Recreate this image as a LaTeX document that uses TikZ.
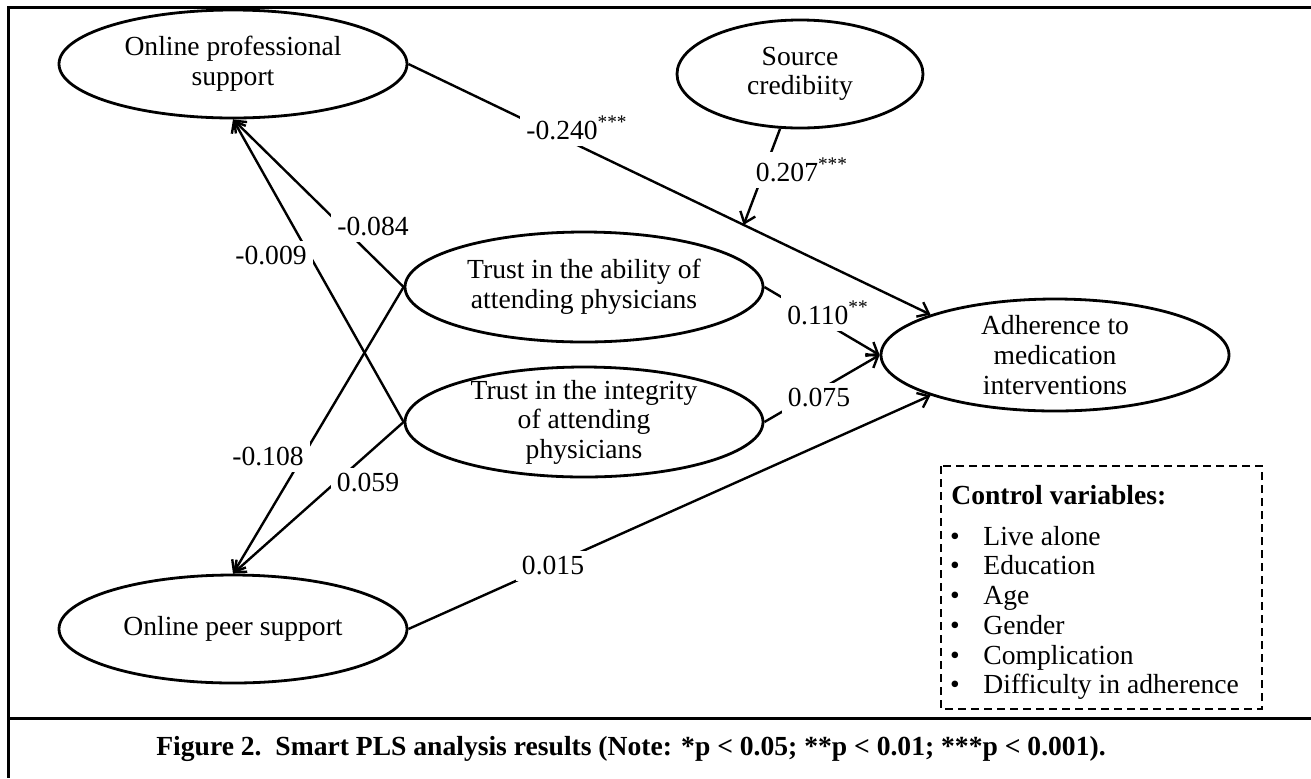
\documentclass[tikz,border=0pt]{standalone}
\usepackage{fontspec}
\setmainfont{Liberation Serif}
\usetikzlibrary{shapes.geometric,arrows.meta}

\newcommand{\plsfont}{\fontsize{13.8pt}{14.8pt}\selectfont}

\begin{document}
\begin{tikzpicture}[x=0.5pt,y=-0.5pt,font=\plsfont,
  construct/.style={draw,ellipse,line width=1.4pt,align=center,inner xsep=0pt,inner ysep=-6pt,
    minimum width=174pt,minimum height=54pt},
  effect/.style={line width=1.2pt,-{Straight Barb[length=5pt,width=8pt]}},
  coef/.style={fill=white,inner sep=3pt}]
\useasboundingbox (0,0) rectangle (1311,778);
% frame
\draw[line width=1.5pt] (1311,7) -- (8,7) -- (8,778);
\draw[line width=1.5pt] (8,718) -- (1311,718);
% constructs
\node[construct] (ops) at (233,64) {Online professional\\support};
\node[construct,minimum width=123pt] (src) at (800,74) {Source\\credibiity};
\node[construct,minimum width=179pt,minimum height=55pt] (abil) at (584,287) {Trust in the ability of\\attending physicians};
\node[construct,minimum width=179pt,minimum height=55pt] (integ) at (584,422) {Trust in the integrity\\of attending\\physicians};
\node[construct,minimum height=56pt] (adh) at (1055,355) {Adherence to\\medication\\interventions};
\node[construct] (peer) at (233,629) {Online peer support};
% paths
\draw[effect] (ops.east) -- coordinate[pos=0.642] (mod) (adh.162);
\draw[effect] (src.250) -- (mod);
\draw[effect] (abil.east) -- (adh.west);
\draw[effect] (integ.east) -- (adh.west);
\draw[effect] (peer.east) -- (adh.198);
\draw[effect] (abil.west) -- (ops.south);
\draw[effect] (integ.west) -- (ops.south);
\draw[effect] (abil.west) -- (peer.north);
\draw[effect] (integ.west) -- (peer.north);
% coefficients
\node[coef] (c240) at (577,128) {-0.240\textsuperscript{***}};
\node[coef] (c207) at (802,170) {0.207\textsuperscript{***}};
\node[coef] (c110) at (828,313) {0.110\textsuperscript{**}};
\node[coef] (c075) at (819,398) {0.075};
\node[coef] (c084) at (373,227) {-0.084};
\node[coef] (c009) at (271,256) {-0.009};
\node[coef] (c108) at (268,457) {-0.108};
\node[coef] (c059) at (368,483) {0.059};
\node[coef] (c015) at (553,566) {0.015};
% control variables
\draw[line width=1pt,dash pattern=on 4pt off 2.5pt] (941,466) rectangle (1262,709);
\node[anchor=base west,inner sep=0pt,font=\plsfont\bfseries] (ctrl) at (951,504) {Control variables:};
\foreach \y/\t [count=\i] in {538/Live alone,567/Education,597/Age,627/Gender,657/Complication,686/Difficulty in adherence}
{
  \node[anchor=base,inner sep=0pt] (b\i) at (955,\y+7) {\textbullet};
  \node[anchor=base west,inner sep=0pt] (v\i) at (983,\y+7) {\t};
}
% caption
\node[font=\plsfont\bfseries] (cap) at (631,749) {Figure 2.\ \ Smart PLS analysis results (Note: *p < 0.05; **p < 0.01; ***p < 0.001).};
\end{tikzpicture}
\end{document}
